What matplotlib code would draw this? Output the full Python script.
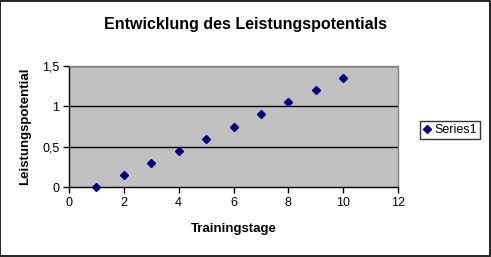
import matplotlib
matplotlib.use('Agg')
from matplotlib import pyplot as plt
from matplotlib.patches import Rectangle

plt.rcParams['font.family'] = ['Liberation Sans', 'DejaVu Sans']

days = [1, 2, 3, 4, 5, 6, 7, 8, 9, 10]
potential = [0, 0.15, 0.3, 0.45, 0.6, 0.75, 0.9, 1.05, 1.2, 1.35]
y_ticks = [0, 0.5, 1, 1.5]
y_tick_labels = ['0', '0,5', '1', '1,5']
x_ticks = [0, 2, 4, 6, 8, 10, 12]


def main():
    fig = plt.figure(figsize=(4.91, 2.57), dpi=100)
    ax = fig.add_axes([69 / 491, 1 - 187 / 257, 329 / 491, 121 / 257])
    ax.set_facecolor('#C0C0C0')

    for y in y_ticks[1:]:
        ax.axhline(y, color='black', linewidth=1, zorder=1)

    ax.plot(days, potential, linestyle='none', marker='D', markersize=3.8,
            color='#000080', label='Series1', zorder=3, clip_on=False)

    ax.set_xlim(0, 12)
    ax.set_ylim(0, 1.5)
    ax.set_xticks(x_ticks)
    ax.set_yticks(y_ticks)
    ax.set_yticklabels(y_tick_labels)
    ax.tick_params(direction='out', length=4, width=1, labelsize=9, color='black', pad=3)

    ax.spines['top'].set_color('#808080')
    ax.spines['right'].set_color('#808080')
    for s in ['left', 'bottom']:
        ax.spines[s].set_color('black')
    for s in ax.spines.values():
        s.set_linewidth(1)

    ax.set_xlabel('Trainingstage', fontsize=9.5, fontweight='bold', labelpad=10)
    ax.set_ylabel('Leistungspotential', fontsize=9.5, fontweight='bold', labelpad=8)
    fig.text(245 / 491, 1 - 25 / 257, 'Entwicklung des Leistungspotentials',
             fontsize=11.5, fontweight='bold', ha='center', va='center')

    leg = fig.legend(loc='center', bbox_to_anchor=(450 / 491, 1 - 130 / 257),
                     fontsize=9, frameon=True, fancybox=False, handlelength=0.6,
                     handletextpad=0.3, borderpad=0.25, borderaxespad=0)
    leg.get_frame().set_edgecolor('black')
    leg.get_frame().set_linewidth(1)

    fig.patches.append(Rectangle((0.001, 0.002), 0.997, 0.995, transform=fig.transFigure,
                                 fill=False, edgecolor='black', linewidth=1.2))

    fig.savefig('out.png', dpi=100)


if __name__ == "__main__":
    main()
